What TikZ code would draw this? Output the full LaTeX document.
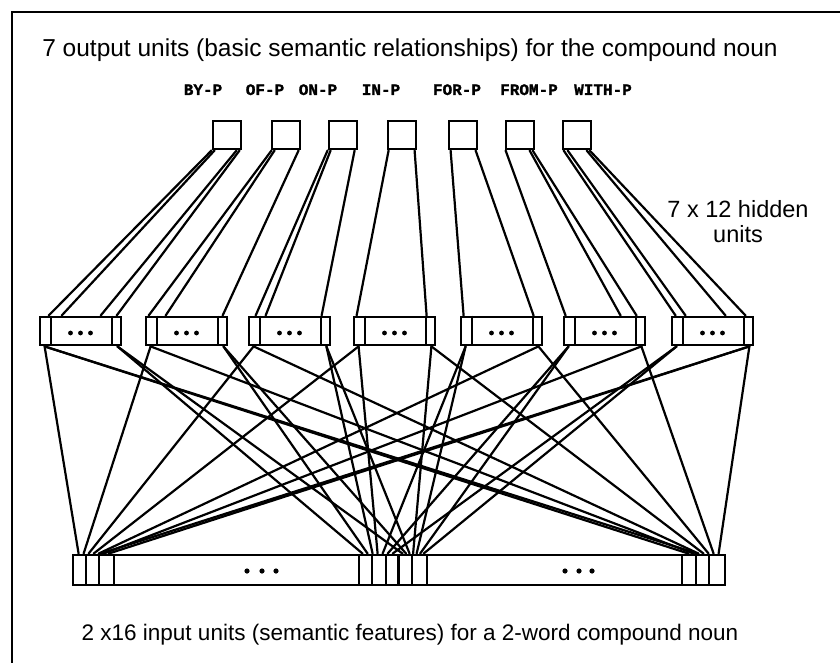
\documentclass[tikz,border=0pt]{standalone}
\usepackage{fontspec}
\setmainfont{Liberation Sans}
\newfontfamily\labelfont{Liberation Mono}[BoldFeatures={FakeBold=1.5}]
\usetikzlibrary{calc}
\begin{document}
\begin{tikzpicture}[x=1pt,y=-1pt,
  unitbox/.style={draw,line width=2.8pt,minimum width=28pt,minimum height=28pt,inner sep=0pt},
  hidbox/.style={draw,line width=2.8pt,minimum width=81pt,minimum height=28pt,inner sep=0pt},
  inbox/.style={draw,line width=2.8pt,minimum width=652pt,minimum height=30pt,inner sep=0pt},
  conn/.style={line width=2.2pt,line cap=round},
  divider/.style={line width=2pt},
  caption/.style={inner sep=0pt,anchor=base},
  plabel/.style={font=\labelfont\bfseries\fontsize{16}{18}\selectfont,inner sep=0pt,anchor=base}
]
\useasboundingbox (0,0) rectangle (840,663);
\begin{scope}
\clip (0,0) rectangle (840,663);
\draw[line width=2.2pt] (12,12) rectangle (900,700);
\end{scope}

% captions
\node[caption,font=\fontsize{24.5}{28}\selectfont] (title) at (410,57) {7 output units (basic semantic relationships) for the compound noun};
\node[caption,font=\fontsize{22.5}{26}\selectfont] (bottom) at (410,640) {2 x16 input units (semantic features) for a 2-word compound noun};
\node[caption,font=\fontsize{23.5}{27}\selectfont] (hidA) at (738,217) {7 x 12 hidden};
\node[caption,font=\fontsize{23.5}{27}\selectfont] (hidB) at (738,242) {units};

% output units and labels
\foreach \c [count=\i] in {227,286,343,402,463,520,577}
  \node[unitbox] (o\i) at (\c,135) {};
\foreach \x/\t [count=\i] in {203/BY-P,265/OF-P,318/ON-P,381/IN-P,457/FOR-P,529/FROM-P,603/WITH-P}
  \node[plabel] (lab\i) at (\x,95) {\t};

% hidden groups
\foreach \L [count=\i] in {40,146,249,354,461,564,672} {
  \node[hidbox] (h\i) at (\L+40.5,331) {};
  \draw[divider] ($(h\i.north west)+(12,0)$) -- ($(h\i.south west)+(12,0)$);
  \draw[divider] ($(h\i.north east)+(-10,0)$) -- ($(h\i.south east)+(-10,0)$);
  \fill ($(h\i.center)+(-10,2)$) circle[radius=2.4pt];
  \fill ($(h\i.center)+(0,2)$) circle[radius=2.4pt];
  \fill ($(h\i.center)+(10,2)$) circle[radius=2.4pt];
}

% input layer
\node[inbox] (in) at (399,570) {};
\foreach \d in {14,27,42,287,300,314,340,355,610,624,637}
  \draw[divider] ($(in.north west)+(\d,0)$) -- ($(in.south west)+(\d,0)$);
\draw[line width=3.4pt] ($(in.north west)+(327,0)$) -- ($(in.south west)+(327,0)$);
\foreach \x in {247,262,276,565,579,592}
  \fill (\x,571) circle[radius=2.6pt];

% output -> hidden
\foreach \i/\a/\b in {1/0/10,1/3/23,1/25/62,1/28/78,
                      2/1/4,2/4/21,2/28/78,
                      3/0/8,3/3/18,3/27/74,
                      4/2/4,4/28/74,
                      5/3/4,5/28/74,
                      6/1/3,6/25/58,6/28/74,
                      7/2/5,7/6/15,7/25/55,7/28/75}
  \draw[conn] ($(o\i.south west)+(\a,0)$) -- ($(h\i.north west)+(\b,0)$);

% hidden -> input (left cells)
\foreach \i/\t in {1/7,1/617,1/626,2/12,2/622,3/17,3/627,4/22,4/306,
                   5/345,5/311,6/348.5,6/316,7/352,7/321}
  \draw[conn] ($(h\i.south west)+(6,0)$) -- ($(in.north west)+(\t,0)$);
% hidden -> input (right cells)
\foreach \i/\t in {1/291,1/331,2/296,2/334.5,3/301,3/338,4/341.5,4/632,
                   5/637,5/27,6/642,6/32,7/647,7/37,7/29}
  \draw[conn] ($(h\i.south east)+(-5,0)$) -- ($(in.north west)+(\t,0)$);
\end{tikzpicture}
\end{document}
